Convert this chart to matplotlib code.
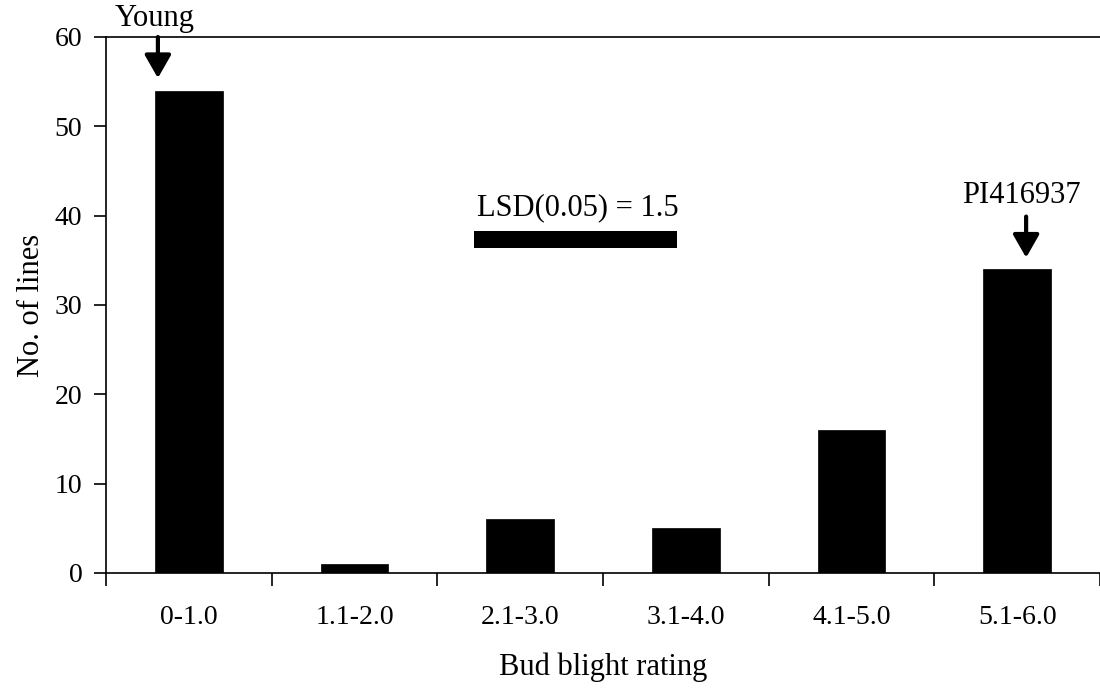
import matplotlib.pyplot as plt
from matplotlib.patches import Rectangle

# bud blight rating classes and number of lines in each
categories = ["0-1.0", "1.1-2.0", "2.1-3.0", "3.1-4.0", "4.1-5.0", "5.1-6.0"]
n_lines = [54, 1, 6, 5, 16, 34]
y_ticks = [0, 10, 20, 30, 40, 50, 60]

# parent annotations: (label, arrow x, arrow tail y, arrow tip y, text x, text baseline y)
parents = [
    ("Young", -0.187, 60.0, 55.4, -0.205, 61.2),
    ("PI416937", 5.054, 39.9, 35.3, 5.024, 41.4),
]
lsd_label = "LSD(0.05) = 1.5"
lsd_x = [1.723, 2.946]
lsd_y = [36.4, 38.3]

plt.rcParams["font.family"] = ["Liberation Serif", "DejaVu Serif"]

fig = plt.figure(figsize=(11, 6.89), dpi=100)
ax = fig.add_axes([0.0964, 0.1684, 0.9036, 0.7779])

x = list(range(len(categories)))
ax.bar(x, n_lines, width=0.41, color="black", edgecolor="black", linewidth=0.5)

ax.set_xlim(-0.5, len(categories) - 0.5)
ax.set_ylim(0, 60)
ax.set_yticks(y_ticks)
ax.tick_params(axis="y", labelsize=20, length=9, width=1.2, pad=8)

# categories sit between ticks (Excel style)
ax.set_xticks([i - 0.5 for i in range(len(categories) + 1)])
ax.set_xticklabels([])
ax.set_xticks(x, minor=True)
ax.set_xticklabels(categories, minor=True)
ax.tick_params(axis="x", which="major", length=9, width=1.2, direction="out")
ax.tick_params(axis="x", which="minor", length=0, labelsize=20, pad=23)

ax.set_xlabel("Bud blight rating", fontsize=22, labelpad=16)
ax.set_ylabel("No. of lines", fontsize=22, labelpad=6)

ax.spines["right"].set_visible(False)
for side in ("left", "bottom", "top"):
    ax.spines[side].set_linewidth(1.2)

for label, ax_x, tail, tip, tx, ty in parents:
    ax.annotate(
        "", xy=(ax_x, tip), xytext=(ax_x, tail),
        arrowprops=dict(arrowstyle="-|>,head_length=0.7,head_width=0.4",
                        lw=3.0, color="black", mutation_scale=20,
                        shrinkA=0, shrinkB=0),
        annotation_clip=False,
    )
    ax.text(tx, ty, label, fontsize=22, ha="center", va="baseline", clip_on=False)

ax.add_patch(Rectangle((lsd_x[0], lsd_y[0]), lsd_x[1] - lsd_x[0], lsd_y[1] - lsd_y[0],
                       facecolor="black", edgecolor="none"))
ax.text(sum(lsd_x) / 2 + 0.015, 40.1, lsd_label, fontsize=22, ha="center", va="baseline")

fig.savefig("out.png", dpi=100)
